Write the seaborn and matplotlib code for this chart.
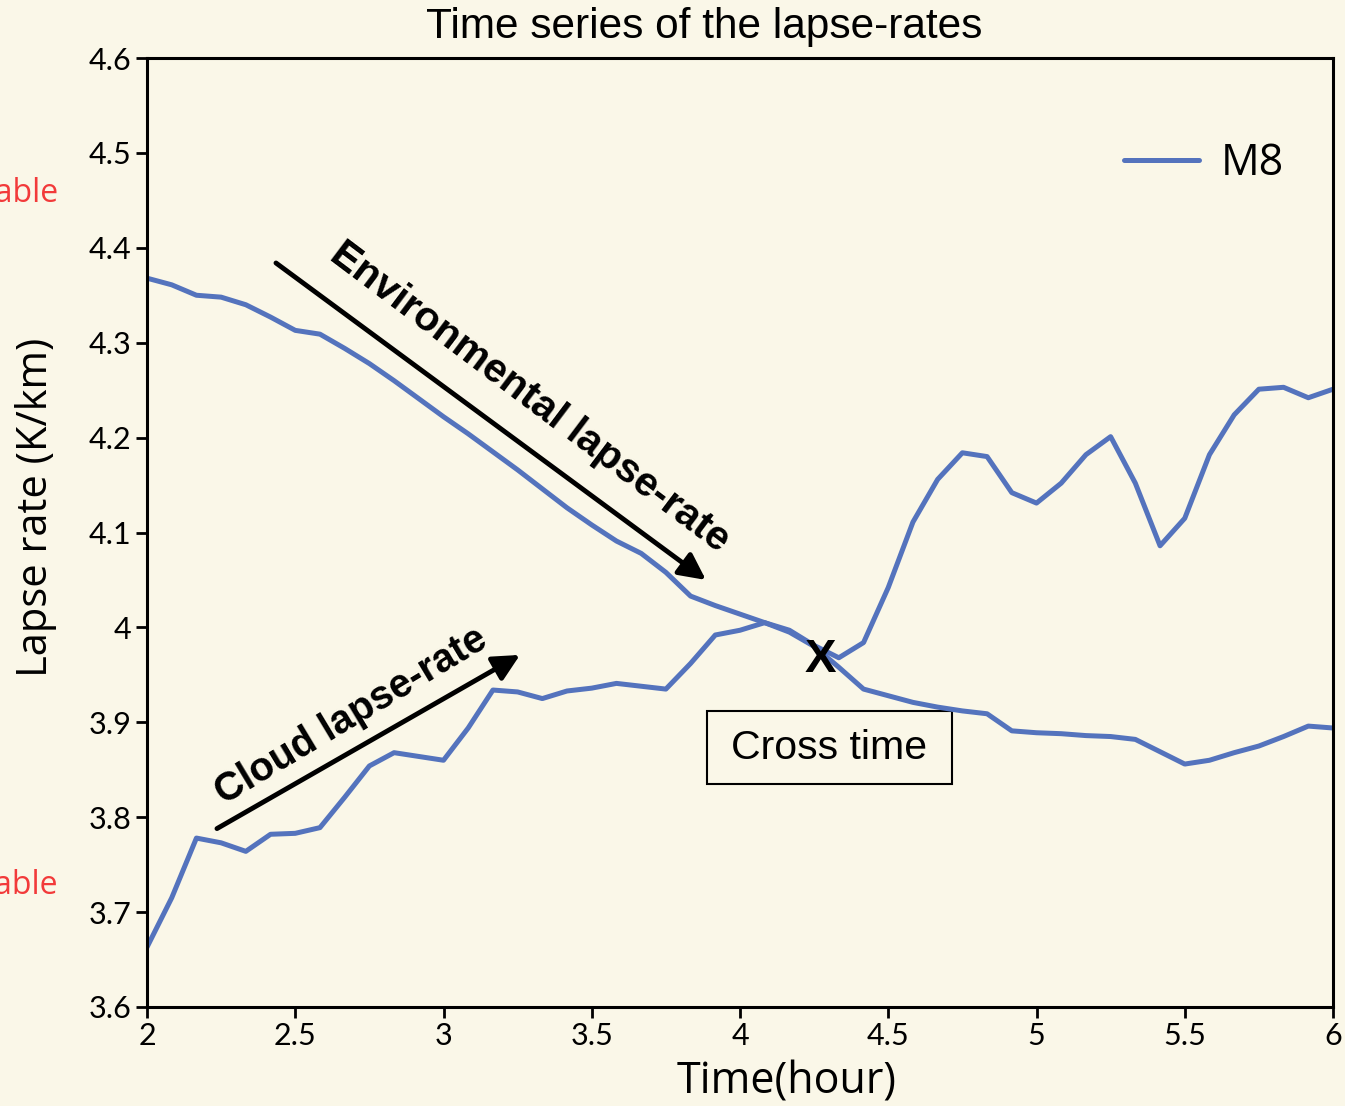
import numpy as np
import pandas as pd
import matplotlib
matplotlib.use("Agg")
import matplotlib.pyplot as plt
from matplotlib.patches import Rectangle
import seaborn as sns

# Time axis: 5-minute steps from hour 2 to hour 6
time_hour = np.round(np.arange(49) / 12 + 2.0, 4)

environmental_rate = [
    4.368, 4.361, 4.350, 4.348, 4.340, 4.327, 4.313, 4.309, 4.294, 4.278,
    4.260, 4.241, 4.222, 4.204, 4.185, 4.166, 4.146, 4.126, 4.108, 4.091,
    4.078, 4.058, 4.033, 4.023, 4.014, 4.005, 3.995, 3.980, 3.958, 3.935,
    3.928, 3.921, 3.916, 3.912, 3.909, 3.891, 3.889, 3.888, 3.886, 3.885,
    3.882, 3.869, 3.856, 3.860, 3.868, 3.875, 3.885, 3.896, 3.894,
]

cloud_rate = [
    3.663, 3.715, 3.778, 3.773, 3.764, 3.782, 3.783, 3.789, 3.821, 3.854,
    3.868, 3.864, 3.860, 3.894, 3.934, 3.932, 3.925, 3.933, 3.936, 3.941,
    3.938, 3.935, 3.962, 3.992, 3.997, 4.005, 3.997, 3.981, 3.968, 3.984,
    4.042, 4.111, 4.156, 4.184, 4.180, 4.142, 4.131, 4.152, 4.182, 4.201,
    4.152, 4.086, 4.115, 4.182, 4.224, 4.251, 4.253, 4.242, 4.251,
]

x_ticks = [2, 2.5, 3, 3.5, 4, 4.5, 5, 5.5, 6]
x_tick_labels = ["2", "2.5", "3", "3.5", "4", "4.5", "5", "5.5", "6"]
y_ticks = [3.6, 3.7, 3.8, 3.9, 4.0, 4.1, 4.2, 4.3, 4.4, 4.5, 4.6]
y_tick_labels = ["3.6", "3.7", "3.8", "3.9", "4", "4.1", "4.2", "4.3", "4.4", "4.5", "4.6"]

cross_time = 4.27
cross_rate = 3.966

bg = "#FAF7E8"
line_color = "#5473BD"

sns.set_theme(style="white")
plt.rcParams["font.family"] = ["Open Sans", "DejaVu Sans"]
plt.rcParams["text.color"] = "black"
plt.rcParams["axes.labelcolor"] = "black"

df_env = pd.DataFrame({"time": time_hour, "rate": environmental_rate})
df_cloud = pd.DataFrame({"time": time_hour, "rate": cloud_rate})

fig = plt.figure(figsize=(13.45, 11.06), dpi=100, facecolor=bg)
ax = fig.add_axes([147 / 1345, 1 - 1007 / 1106, (1333 - 147) / 1345, (1007 - 58) / 1106])
ax.set_facecolor(bg)

sns.lineplot(data=df_env, x="time", y="rate", ax=ax, color=line_color,
             linewidth=3.6, label="M8")
sns.lineplot(data=df_cloud, x="time", y="rate", ax=ax, color=line_color,
             linewidth=3.6, legend=False)

ax.set_xlim(2, 6)
ax.set_ylim(3.6, 4.6)
ax.set_xticks(x_ticks)
ax.set_xticklabels(x_tick_labels)
ax.set_yticks(y_ticks)
ax.set_yticklabels(y_tick_labels)
ax.tick_params(axis="both", direction="out", length=8, width=2, color="black",
               labelsize=22, labelcolor="black", pad=3,
               bottom=True, left=True, top=False, right=False)
for lbl in ax.get_xticklabels() + ax.get_yticklabels():
    lbl.set_fontfamily(["Lato", "DejaVu Sans"])
for sp in ax.spines.values():
    sp.set_color("black")
    sp.set_linewidth(2.2)

ax.set_xlabel("")
ax.set_ylabel("")
fig.text(787 / 1345, 1 - 1082 / 1106, "Time(hour)", ha="center", va="center",
         fontsize=31, color="black")
fig.text(36 / 1345, 1 - 507 / 1106, "Lapse rate (K/km)", ha="center", va="center",
         rotation=90, fontsize=30, color="black")
fig.text(704 / 1345, 1 - 27 / 1106, "Time series of the lapse-rates", ha="center",
         va="center", fontsize=30.5, color="black", family=["Liberation Sans", "DejaVu Sans"])

# stability hints on the left margin
fig.text(58 / 1345, 1 - 193 / 1106, "Unstable", ha="right", va="center",
         fontsize=23, color="#F23A3A")
fig.text(58 / 1345, 1 - 885 / 1106, "Stable", ha="right", va="center",
         fontsize=23, color="#F23A3A")

leg = ax.legend(loc="upper right", bbox_to_anchor=(0.973, 0.930), frameon=False,
                fontsize=31, handlelength=1.75, handletextpad=0.5, borderaxespad=0.0,
                labelcolor="black")

# trend arrows and labels
arrow_kw = dict(arrowstyle="-|>", color="black", lw=3.5, mutation_scale=40,
                shrinkA=0, shrinkB=0)
ax.annotate("", xy=(3.885, 4.050), xytext=(2.435, 4.384), arrowprops=arrow_kw)
ax.annotate("", xy=(3.258, 3.971), xytext=(2.236, 3.788), arrowprops=arrow_kw)

bold_font = ["Liberation Sans", "DejaVu Sans"]
ax.text(3.290, 4.243, "Environmental lapse-rate", rotation=-37, rotation_mode="anchor",
        ha="center", va="center", fontsize=29.5, fontweight="bold", family=bold_font,
        color="black")
ax.text(2.690, 3.907, "Cloud lapse-rate", rotation=31, rotation_mode="anchor",
        ha="center", va="center", fontsize=28.5, fontweight="bold", family=bold_font,
        color="black")

# crossing marker and its caption box
ax.text(cross_time, cross_rate, "X", ha="center", va="center", fontsize=34,
        fontweight="bold", family=bold_font, color="black")
ax.add_patch(Rectangle((3.889, 3.835), 4.715 - 3.889, 3.912 - 3.835,
                       fill=False, edgecolor="black", linewidth=1.5))
ax.text(4.302, 3.873, "Cross time", ha="center", va="center", fontsize=29.5,
        family=bold_font, color="black")

fig.savefig("out.png", dpi=100, facecolor=bg)
